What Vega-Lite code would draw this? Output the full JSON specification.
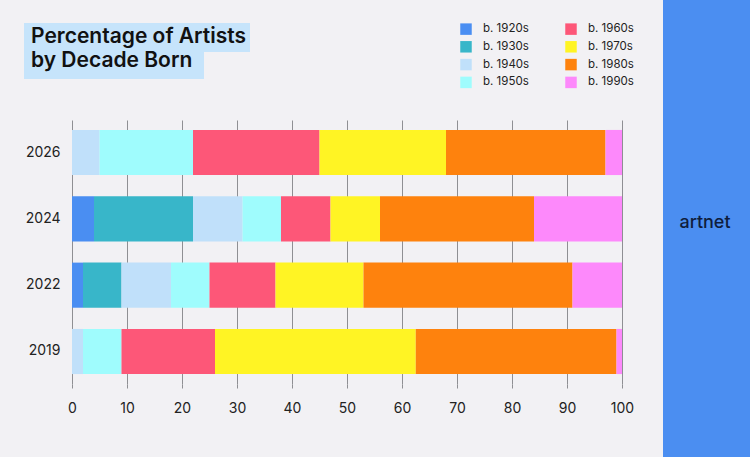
{
  "$schema": "https://vega.github.io/schema/vega-lite/v6.json",
  "width": 550,
  "height": 264,
  "autosize": {"type": "none"},
  "padding": {"left": 72, "top": 120, "right": 128, "bottom": 73},
  "background": "#f2f1f4",
  "config": {
    "view": {"stroke": null},
    "font": "Inter",
    "axis": {"labelFont": "Inter", "labelColor": "#222222", "labelFontSize": 14}
  },
  "layer": [
    {
      "data": {"values": [{"panel": "artnet"}]},
      "mark": {"type": "rect", "x": 591, "x2": 680, "y": -120, "y2": 337, "color": "#4b8ef1"},
      "encoding": {}
    },
    {
      "data": {"values": [{"line": 1}]},
      "mark": {"type": "rect", "x": -48, "x2": 178, "y": -97, "y2": -68, "color": "#c6e4fb"},
      "encoding": {}
    },
    {
      "data": {"values": [{"line": 2}]},
      "mark": {"type": "rect", "x": -48, "x2": 132, "y": -69, "y2": -41, "color": "#c6e4fb"},
      "encoding": {}
    },
    {
      "data": {"values": [{"title": ["Percentage of Artists", "by Decade Born"]}]},
      "mark": {"type": "text", "x": -41, "y": -77, "align": "left", "baseline": "alphabetic", "fontSize": 21, "fontWeight": 600, "lineHeight": 24, "color": "#111111", "font": "Inter"},
      "encoding": {"text": {"field": "title"}}
    },
    {
      "data": {"values": [{"brand": "artnet"}]},
      "mark": {"type": "text", "x": 633, "y": 103, "align": "center", "baseline": "middle", "fontSize": 18, "fontWeight": 500, "color": "#0f1d3d", "font": "Inter"},
      "encoding": {"text": {"field": "brand"}}
    },
    {
      "data": {
        "values": [
          {"year": "2026", "decade": "b. 1940s", "rank": 3, "pct": 5},
          {"year": "2026", "decade": "b. 1950s", "rank": 4, "pct": 17},
          {"year": "2026", "decade": "b. 1960s", "rank": 5, "pct": 23},
          {"year": "2026", "decade": "b. 1970s", "rank": 6, "pct": 23},
          {"year": "2026", "decade": "b. 1980s", "rank": 7, "pct": 29},
          {"year": "2026", "decade": "b. 1990s", "rank": 8, "pct": 3},
          {"year": "2024", "decade": "b. 1920s", "rank": 1, "pct": 4},
          {"year": "2024", "decade": "b. 1930s", "rank": 2, "pct": 18},
          {"year": "2024", "decade": "b. 1940s", "rank": 3, "pct": 9},
          {"year": "2024", "decade": "b. 1950s", "rank": 4, "pct": 7},
          {"year": "2024", "decade": "b. 1960s", "rank": 5, "pct": 9},
          {"year": "2024", "decade": "b. 1970s", "rank": 6, "pct": 9},
          {"year": "2024", "decade": "b. 1980s", "rank": 7, "pct": 28},
          {"year": "2024", "decade": "b. 1990s", "rank": 8, "pct": 16},
          {"year": "2022", "decade": "b. 1920s", "rank": 1, "pct": 2},
          {"year": "2022", "decade": "b. 1930s", "rank": 2, "pct": 7},
          {"year": "2022", "decade": "b. 1940s", "rank": 3, "pct": 9},
          {"year": "2022", "decade": "b. 1950s", "rank": 4, "pct": 7},
          {"year": "2022", "decade": "b. 1960s", "rank": 5, "pct": 12},
          {"year": "2022", "decade": "b. 1970s", "rank": 6, "pct": 16},
          {"year": "2022", "decade": "b. 1980s", "rank": 7, "pct": 38},
          {"year": "2022", "decade": "b. 1990s", "rank": 8, "pct": 9},
          {"year": "2019", "decade": "b. 1940s", "rank": 3, "pct": 2},
          {"year": "2019", "decade": "b. 1950s", "rank": 4, "pct": 7},
          {"year": "2019", "decade": "b. 1960s", "rank": 5, "pct": 17},
          {"year": "2019", "decade": "b. 1970s", "rank": 6, "pct": 36.5},
          {"year": "2019", "decade": "b. 1980s", "rank": 7, "pct": 36.5},
          {"year": "2019", "decade": "b. 1990s", "rank": 8, "pct": 1}
        ]
      },
      "mark": {"type": "bar"},
      "encoding": {
        "y": {
          "field": "year", "type": "ordinal",
          "sort": ["2026", "2024", "2022", "2019"],
          "scale": {"paddingInner": 0.32, "paddingOuter": 0.15},
          "axis": {"title": null, "domain": false, "ticks": false, "labelPadding": 12}
        },
        "x": {
          "field": "pct", "type": "quantitative", "aggregate": "sum", "stack": "zero",
          "scale": {"domain": [0, 100], "nice": false},
          "axis": {
            "title": null, "domain": false, "values": [0, 10, 20, 30, 40, 50, 60, 70, 80, 90, 100],
            "grid": true, "gridColor": "#8f8f93", "gridWidth": 1, "gridOpacity": 1,
            "ticks": true, "tickSize": 4, "tickColor": "#8f8f93", "labelPadding": 13,
            "labelFlush": false
          }
        },
        "order": {"field": "rank", "type": "quantitative", "aggregate": "min"},
        "color": {
          "field": "decade", "type": "nominal",
          "scale": {
            "domain": ["b. 1920s", "b. 1930s", "b. 1940s", "b. 1950s", "b. 1960s", "b. 1970s", "b. 1980s", "b. 1990s"],
            "range": ["#4a8ef2", "#38b6c9", "#c0e0fa", "#9ffcfd", "#fd5778", "#fff424", "#fe820d", "#fd89fb"]
          },
          "legend": {
            "title": null, "orient": "none", "legendX": 388, "legendY": -97,
            "columns": 2, "columnPadding": 35, "rowPadding": 5.8, "padding": 0,
            "symbolType": "square", "symbolSize": 132, "symbolStrokeWidth": 0, "symbolOpacity": 1,
            "labelFontSize": 11.5, "labelColor": "#222222", "labelOffset": 11, "labelFont": "Inter"
          }
        }
      }
    }
  ]
}
